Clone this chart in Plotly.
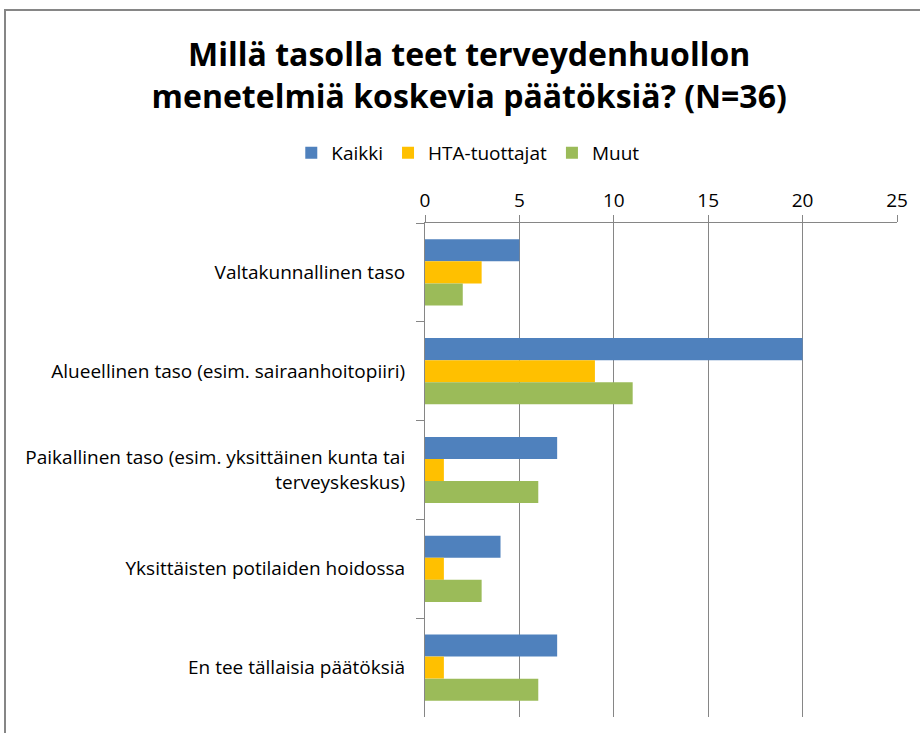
import plotly.graph_objects as go

categories = [
    "Valtakunnallinen taso",
    "Alueellinen taso (esim. sairaanhoitopiiri)",
    "Paikallinen taso (esim. yksittäinen kunta tai<br>terveyskeskus)",
    "Yksittäisten potilaiden hoidossa",
    "En tee tällaisia päätöksiä",
]
series_names = ["Kaikki", "HTA-tuottajat", "Muut"]
kaikki = [5, 20, 7, 4, 7]
hta = [3, 9, 1, 1, 1]
muut = [2, 11, 6, 3, 6]
colors = ["#4F81BD", "#FFC000", "#9BBB59"]
x_ticks = [0, 5, 10, 15, 20, 25]

FONT = "Open Sans"
AXIS_GRAY = "#868686"
TXT = 19

fig = go.Figure()
for name, vals, col in zip(series_names, [kaikki, hta, muut], colors):
    fig.add_trace(go.Bar(y=categories, x=vals, name=name, orientation="h",
                         marker=dict(color=col, line=dict(width=0))))

fig.update_layout(
    width=920, height=733,
    paper_bgcolor="white", plot_bgcolor="white",
    margin=dict(l=425, r=23, t=223, b=16),
    barmode="group", bargap=0.33, bargroupgap=0,
    font=dict(family=FONT, size=TXT, color="#000000"),
    title=dict(text="<b>Millä tasolla teet terveydenhuollon<br>menetelmiä koskevia päätöksiä? (N=36)</b>",
               x=0.51, xref="container", xanchor="center",
               y=1 - 66 / 733, yref="container", yanchor="middle",
               font=dict(family=FONT, size=32, color="#000000")),
    legend=dict(orientation="h", x=0.509, xref="container", xanchor="center",
                y=1 - 153 / 733, yref="container", yanchor="middle",
                font=dict(family=FONT, size=TXT), traceorder="normal",
                itemwidth=30),
    showlegend=True,
)
fig.update_xaxes(side="top", range=[0, 25], tickvals=x_ticks, showgrid=True,
                 gridcolor=AXIS_GRAY, gridwidth=1, zeroline=False,
                 showline=True, linecolor=AXIS_GRAY, linewidth=1,
                 ticks="outside", ticklen=7, tickcolor=AXIS_GRAY,
                 ticklabelstandoff=0, tickfont=dict(size=TXT))
fig.update_yaxes(autorange="reversed", tickson="boundaries", ticks="outside",
                 ticklen=8, tickcolor=AXIS_GRAY, showline=True, linecolor=AXIS_GRAY,
                 linewidth=1, showgrid=False, tickfont=dict(size=TXT),
                 ticklabelstandoff=15)

# outer chart frame
fig.add_shape(type="rect", xref="paper", yref="paper",
              x0=-420 / 472, x1=1.2, y0=-0.2, y1=(717 - 10) / 494,
              line=dict(color=AXIS_GRAY, width=2), fillcolor="rgba(0,0,0,0)")

fig.write_html("out.html", config={"displayModeBar": False},
               post_script="document.body.style.margin='0px';")
